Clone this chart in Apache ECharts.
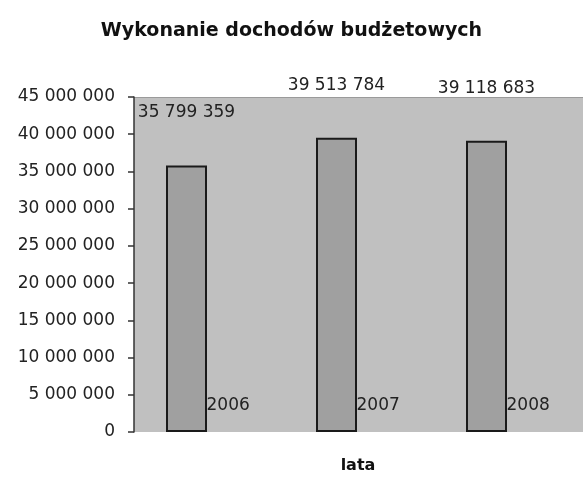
<!DOCTYPE html>
<html>
<head>
<meta charset="utf-8">
<script src="https://cdn.jsdelivr.net/npm/echarts@6/dist/echarts.min.js"></script>
<style>
  html, body { margin: 0; padding: 0; background: #fff; }
  #chart { width: 583px; height: 479px; }
</style>
</head>
<body>
<div id="chart"></div>
<script>
// dane do wykresu
var lata = ['2006', '2007', '2008'];
var dochody = [35799359, 39513784, 39118683];
var osY = { min: 0, max: 45000000, krok: 5000000 };

function spacje(n) {
	return String(n).replace(/\B(?=(\d{3})+(?!\d))/g, ' ');
}

var czcionka = 'DejaVu Sans';
var myChart = echarts.init(document.getElementById('chart'));
var option = {
	backgroundColor: '#fff',
	animation: false,
	title: {
		text: 'Wykonanie dochodów budżetowych',
		left: 'center',
		top: 17,
		textStyle: { fontFamily: czcionka, fontSize: 19, fontWeight: 'bold', color: '#111' }
	},
	// tlo obszaru wykresu (przesuniete jak w Excelu)
	graphic: [
		{ type: 'rect', silent: true, z: -1, shape: { x: 134, y: 97, width: 449, height: 335 },
		  style: { fill: '#c0c0c0' } },
		{ type: 'line', silent: true, z: -1, shape: { x1: 134, y1: 97.5, x2: 583, y2: 97.5 },
		  style: { stroke: '#9a9a9a', lineWidth: 1 } }
	],
	grid: { left: 111.5, right: 21.5, top: 97, bottom: 47 },
	xAxis: {
		type: 'category',
		data: lata,
		name: 'lata',
		nameLocation: 'middle',
		nameGap: 26,
		nameTextStyle: { fontFamily: czcionka, fontSize: 16, fontWeight: 'bold', color: '#111', padding: [0, 0, 0, 43] },
		axisLine: { show: false },
		axisTick: { show: false },
		axisLabel: {
			inside: true, margin: 18, align: 'left', padding: [0, 0, 0, 20],
			fontFamily: czcionka, fontSize: 17, color: '#222'
		},
		splitLine: { show: false }
	},
	yAxis: {
		type: 'value',
		min: osY.min, max: osY.max, interval: osY.krok,
		offset: -22.5,
		axisLine: { show: true, lineStyle: { color: '#333', width: 1.5 } },
		axisTick: { show: true, length: 6, lineStyle: { color: '#333', width: 1.5 } },
		axisLabel: { margin: 19, fontFamily: czcionka, fontSize: 17, color: '#222', formatter: spacje },
		splitLine: { show: false }
	},
	series: [{
		type: 'bar',
		data: dochody,
		barWidth: 41,
		z: 2,
		itemStyle: { color: '#a0a0a0', borderColor: '#1a1a1a', borderWidth: 2 },
		label: {
			show: true, position: 'top', distance: 44,
			fontFamily: czcionka, fontSize: 17, color: '#222',
			formatter: function (p) { return spacje(p.value); }
		}
	}]
};
myChart.setOption(option);
</script>
</body>
</html>
